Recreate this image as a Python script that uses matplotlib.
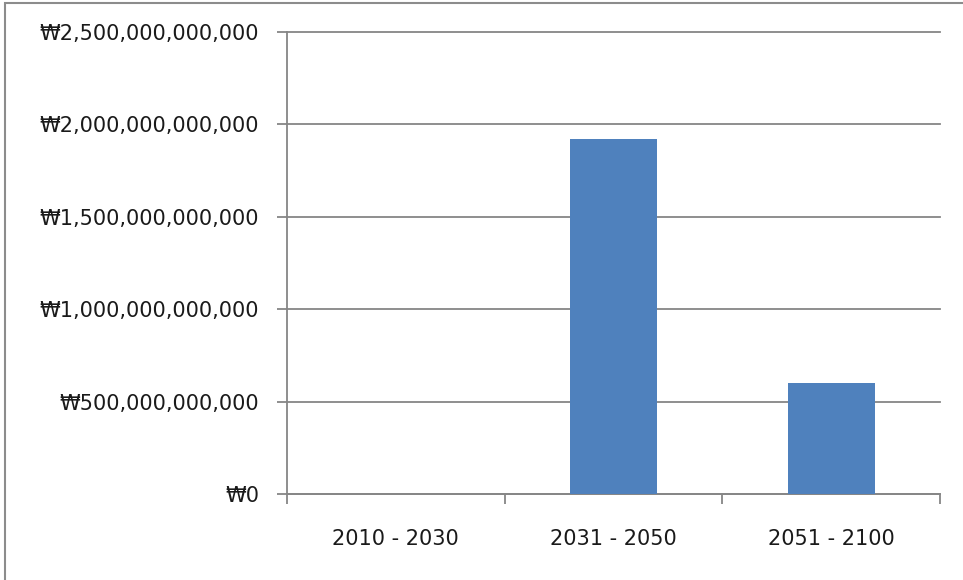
import matplotlib
matplotlib.use("Agg")
import matplotlib.pyplot as plt
from matplotlib.patches import Rectangle
from matplotlib.ticker import FuncFormatter, FixedLocator
import numpy as np

# chart data
periods = ["2010 - 2030", "2031 - 2050", "2051 - 2100"]
costs = [0, 1.92e12, 6.0e11]
y_ticks = [0, 5e11, 1e12, 1.5e12, 2e12, 2.5e12]

plt.rcParams['font.family'] = ['DejaVu Sans']

fig = plt.figure(figsize=(9.63, 5.80), dpi=100)
ax = fig.add_axes([0.298, 0.148, 0.678, 0.797])

x = np.arange(len(periods))
ax.bar(x, costs, width=0.4, color="#4F81BD", zorder=3)

ax.set_xlim(-0.5, len(periods) - 0.5)
ax.set_ylim(0, 2.5e12)
ax.set_yticks(y_ticks)
ax.yaxis.set_major_formatter(FuncFormatter(lambda v, p: "\u20a9{:,.0f}".format(v)))
ax.grid(axis="y", color="#868686", linewidth=1.3, zorder=0)
for gl in ax.get_ygridlines():
    gl.set_clip_on(False)  # keep the top gridline full width

# category labels centred, tick marks between categories
ax.set_xticks(x)
ax.set_xticklabels(periods)
ax.tick_params(axis="x", length=0, pad=25, labelsize=15, labelcolor="#1a1a1a")
ax.xaxis.set_minor_locator(FixedLocator(np.arange(-0.5, len(periods), 1.0)))
ax.tick_params(axis="x", which="minor", length=7, width=1.3, color="#868686")
ax.tick_params(axis="y", length=7, width=1.3, color="#868686", pad=13,
               labelsize=15, labelcolor="#1a1a1a")

for s in ["top", "right"]:
    ax.spines[s].set_visible(False)
for s in ["left", "bottom"]:
    ax.spines[s].set_color("#868686")
    ax.spines[s].set_linewidth(1.3)

# outer chart border
fig.patches.append(Rectangle((0.0055, -0.01), 1.0, 1.005, transform=fig.transFigure,
                             fill=False, edgecolor="#8c8c8c", linewidth=1.5))

fig.savefig("out.png", dpi=100)
